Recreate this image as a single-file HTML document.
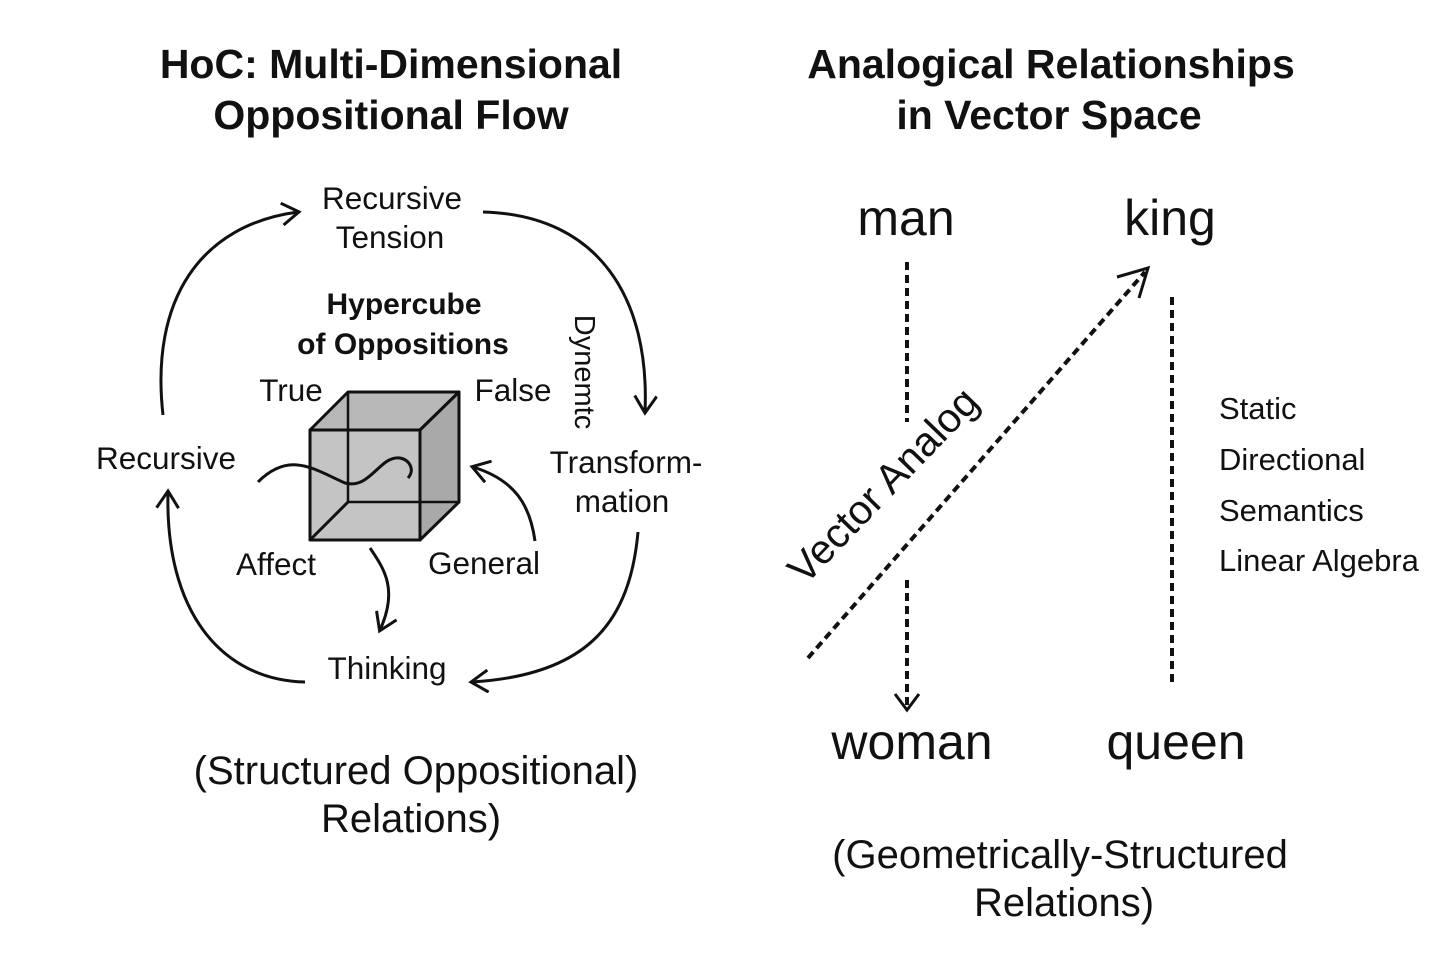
<!DOCTYPE html>
<html><head><style>body{margin:0;background:#fff}svg{display:block}text{font-family:"Liberation Sans",sans-serif;fill:#111}</style></head>
<body>
<svg width="1456" height="971" viewBox="0 0 1456 971" xmlns="http://www.w3.org/2000/svg">
<defs>
<marker id="b" markerWidth="24" markerHeight="24" refX="18" refY="12" orient="auto" markerUnits="userSpaceOnUse"><path d="M2,1 L19,12 L2,23" fill="none" stroke="#111" stroke-width="3"/></marker></defs>
<g font-weight="bold" font-size="41" text-anchor="middle">
<text x="391" y="78">HoC: Multi-Dimensional</text><text x="391" y="129">Oppositional Flow</text>
<text x="1051" y="78">Analogical Relationships</text><text x="1049" y="129">in Vector Space</text></g>
<g font-size="31.5" text-anchor="middle">
<text x="392" y="209">Recursive</text><text x="390" y="248">Tension</text>
<text x="166" y="469">Recursive</text>
<text x="626" y="473">Transform-</text><text x="622" y="512">mation</text>
<text x="387" y="679">Thinking</text>
<text x="291" y="401">True</text><text x="513" y="401">False</text>
<text x="276" y="575">Affect</text><text x="484" y="574">General</text>
<text x="404" y="314" font-weight="bold" font-size="30">Hypercube</text>
<text x="403" y="354" font-weight="bold" font-size="30">of Oppositions</text>
<text transform="translate(575,372) rotate(90)" font-size="29">Dynemtc</text>
<text x="416" y="784" font-size="40">(Structured Oppositional)</text><text x="411" y="832" font-size="40">Relations)</text>
<text x="906" y="235" font-size="50">man</text><text x="1170" y="235" font-size="50">king</text>
<text x="912" y="759" font-size="50">woman</text><text x="1176" y="759" font-size="50">queen</text>
<text x="1060" y="868" font-size="40">(Geometrically-Structured</text><text x="1064" y="916" font-size="40">Relations)</text>
<text transform="translate(893,495) rotate(-46)" font-size="41">Vector Analog</text>
</g>
<g font-size="31"><text x="1219" y="419">Static</text><text x="1219" y="470">Directional</text><text x="1219" y="521">Semantics</text><text x="1219" y="571">Linear Algebra</text></g>
<g fill="none" stroke="#111" stroke-width="3">
<path d="M163,415 C150,300 200,225 298,212" marker-end="url(#b)"/>
<path d="M483,212 C600,215 650,300 645,412" marker-end="url(#b)"/>
<path d="M638,532 C630,620 590,675 472,682" marker-end="url(#b)"/>
<path d="M305,682 C220,680 165,610 168,492" marker-end="url(#b)"/>
<path d="M535,541 C530,505 515,480 473,467" marker-end="url(#b)"/>
<path d="M370,548 C385,570 398,590 380,630" marker-end="url(#b)"/>
</g>
<g stroke="#111" stroke-width="3" stroke-linejoin="round">
<rect x="310" y="430" width="110" height="110" fill="#c4c4c4"/>
<polygon points="310,430 348,392 459,392 420,430" fill="#b8b8b8"/>
<polygon points="420,430 459,392 459,502 420,540" fill="#a9a9a9"/>
<rect x="348" y="392" width="111" height="110" fill="none" stroke-width="2.5"/>
<line x1="310" y1="540" x2="348" y2="502"/>
</g>
<path d="M258,482 C290,450 315,470 345,483 C370,490 380,455 400,458 C410,460 415,470 408,478" fill="none" stroke="#111" stroke-width="3"/>
<g fill="none" stroke="#111" stroke-width="4" stroke-dasharray="8,5">
<line x1="907" y1="262" x2="907" y2="422"/>
<line x1="907" y1="580" x2="907" y2="708"/>
<line x1="808" y1="658" x2="1145" y2="272"/>
<line x1="1172" y1="297" x2="1172" y2="682"/>
</g>
<path d="M895,694 L907,710 L919,694" fill="none" stroke="#111" stroke-width="3"/>
<path d="M1117,277 L1148,268 L1139,298" fill="none" stroke="#111" stroke-width="3"/>
</svg>
</body></html>
